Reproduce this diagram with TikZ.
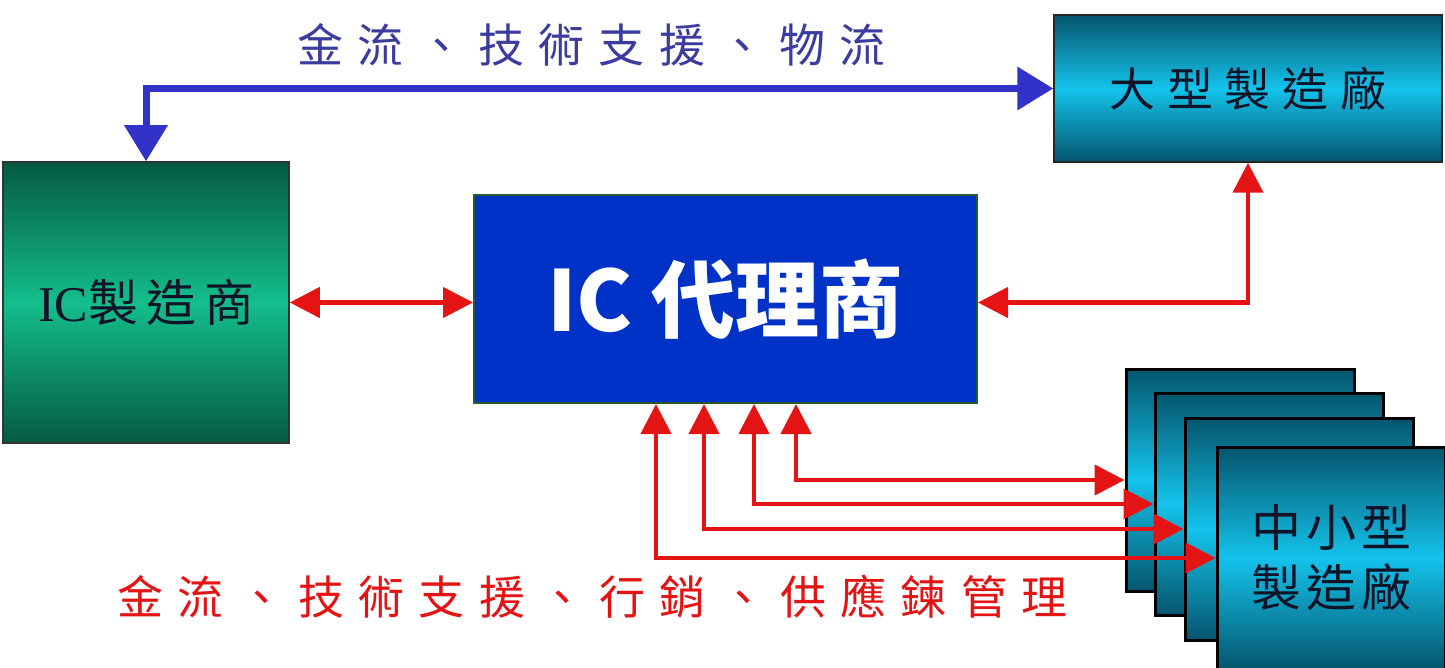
\documentclass[tikz,border=0pt]{standalone}
\usepackage{fontspec}
\usetikzlibrary{arrows.meta,calc}
\newfontfamily\cjk{Noto Sans CJK TC}
\newfontfamily\latserif{Liberation Serif}
\definecolor{tealdark}{RGB}{5,85,110}
\definecolor{tealmid}{RGB}{20,195,235}
\definecolor{grdark}{RGB}{5,90,65}
\definecolor{grmid}{RGB}{20,190,140}
\definecolor{agentblue}{RGB}{0,50,200}
\definecolor{arrowblue}{RGB}{50,50,200}
\definecolor{arrowred}{RGB}{228,20,20}
\definecolor{topblue}{RGB}{60,60,160}
\definecolor{ink}{RGB}{15,20,40}
\definecolor{agentborder}{RGB}{40,90,50}
\tikzset{
  cyanbox/.style={draw=black!85, line width=1.5pt, shading=axis, top color=tealdark, bottom color=tealdark, middle color=tealmid, text=ink},
  stackbox/.style={draw=black, line width=3pt, shading=axis, top color=tealdark, bottom color=tealdark, middle color=tealmid, minimum width=228pt, minimum height=222pt, text=ink},
  greenbox/.style={draw=black!80, line width=1.5pt, shading=axis, top color=grdark, bottom color=grdark, middle color=grmid, text=ink},
  agentbox/.style={draw=agentborder, line width=2pt, fill=agentblue, text=white},
  bluearrow/.style={draw=arrowblue, line width=7pt, {Triangle[length=36pt,width=42pt]}-{Triangle[length=36pt,width=42pt]}},
  redarrow/.style={draw=arrowred, line width=4.5pt, {Triangle[length=30pt,width=30pt]}-{Triangle[length=30pt,width=30pt]}},
}
\begin{document}
\begin{tikzpicture}[x=1pt,y=-1pt]
\useasboundingbox (0,0) rectangle (1445,668);
% boxes
\node[greenbox, minimum width=286pt, minimum height=281pt] (icm) at (146,302.5)
  {\fontsize{50}{54}\selectfont{\latserif IC}\cjk\addfontfeatures{LetterSpace=16}製造商\hspace{-8pt}};
\node[agentbox, minimum width=503pt, minimum height=208pt] (agent) at (725.5,299)
  {\cjk\bfseries\fontsize{84}{90}\selectfont IC 代理商};
\node[cyanbox, minimum width=388pt, minimum height=147pt] (big) at (1248,88.5)
  {\cjk\fontsize{46}{50}\selectfont\addfontfeatures{LetterSpace=26}大型製造廠\hspace{-12pt}};
\node[stackbox] (b1) at (1240,480) {};
\node[stackbox] (b2) at (1269,504) {};
\node[stackbox] (b3) at (1299,529) {};
\node[stackbox, align=center, font={\cjk\fontsize{50}{60}\selectfont\addfontfeatures{LetterSpace=10}}] (b4) at (1331,558)
  {中小型\\製造廠};
% labels
\node[text=topblue, anchor=west, font={\cjk\fontsize{46}{50}\selectfont\addfontfeatures{LetterSpace=31}}] (toplabel) at (294,45)
  {金流、技術支援、物流};
\node[text=arrowred, anchor=west, font={\cjk\fontsize{46}{50}\selectfont\addfontfeatures{LetterSpace=31}}] (botlabel) at (114,597)
  {金流、技術支援、行銷、供應鍊管理};
% connectors
\draw[bluearrow] (big.west) -| (icm.north);
\draw[redarrow] (icm.east) -- (icm.east -| agent.west);
\draw[redarrow] (agent.east |- icm.east) -| (big.south);
\draw[redarrow] ($(agent.south west)+(323,0)$) |- (b1.west);
\draw[redarrow] ($(agent.south west)+(281,0)$) |- (b2.west);
\draw[redarrow] ($(agent.south west)+(231,0)$) |- (b3.west);
\draw[redarrow] ($(agent.south west)+(183,0)$) |- (b4.west);
\end{tikzpicture}
\end{document}
